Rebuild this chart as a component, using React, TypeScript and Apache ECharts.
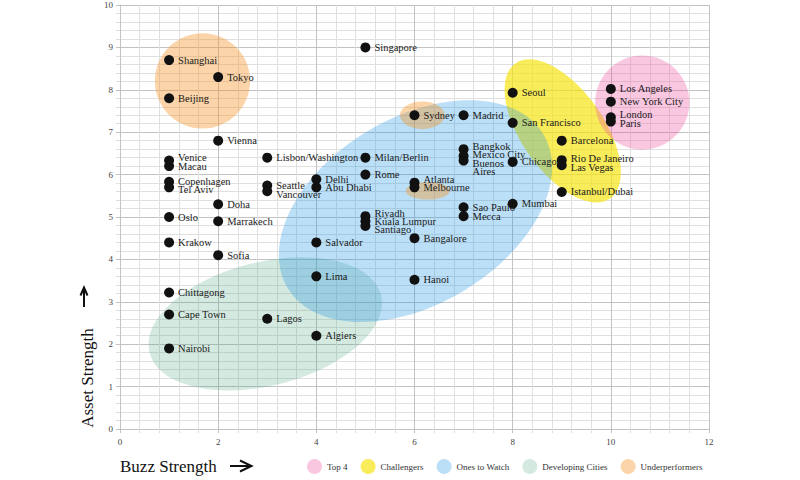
import React, { useEffect, useRef } from "react";
import * as echarts from "echarts";

// ---------- data ----------
const cities = [
  "Shanghai", "Tokyo", "Beijing", "Vienna", "Venice", "Macau", "Copenhagen", "Tel Aviv",
  "Doha", "Oslo", "Marrakech", "Krakow", "Sofia", "Chittagong", "Cape Town", "Nairobi",
  "Lagos", "Algiers", "Lima", "Salvador", "Lisbon/Washington", "Seattle", "Vancouver",
  "Delhi", "Abu Dhabi", "Singapore", "Milan/Berlin", "Rome", "Riyadh", "Kuala Lumpur",
  "Santiago", "Sydney", "Atlanta", "Melbourne", "Bangalore", "Hanoi", "Madrid", "Bangkok",
  "Mexico City", "Buenos\nAires", "Sao Paulo", "Mecca", "Seoul", "San Francisco", "Chicago",
  "Mumbai", "Barcelona", "Rio De Janeiro", "Las Vegas", "Istanbul/Dubai", "Los Angeles",
  "New York City", "London", "Paris",
];
const buzzStrength = [
  1, 2, 1, 2, 1, 1, 1, 1,
  2, 1, 2, 1, 2, 1, 1, 1,
  3, 4, 4, 4, 3, 3, 3,
  4, 4, 5, 5, 5, 5, 5,
  5, 6, 6, 6, 6, 6, 7, 7,
  7, 7, 7, 7, 8, 8, 8,
  8, 9, 9, 9, 9, 10,
  10, 10, 10,
];
const assetStrength = [
  8.7, 8.3, 7.8, 6.8, 6.33, 6.2, 5.83, 5.7,
  5.3, 5.0, 4.9, 4.4, 4.1, 3.22, 2.7, 1.9,
  2.6, 2.2, 3.6, 4.4, 6.4, 5.74, 5.61,
  5.89, 5.7, 9.0, 6.4, 6.0, 5.02, 4.9,
  4.79, 7.4, 5.81, 5.7, 4.5, 3.52, 7.4, 6.6,
  6.44, 6.33, 5.23, 5.02, 7.93, 7.22, 6.3,
  5.31, 6.8, 6.34, 6.22, 5.59, 8.02,
  7.72, 7.35, 7.25,
];

const groupNames = ["Top 4", "Challengers", "Ones to Watch", "Developing Cities", "Underperformers"];
// region ellipses: [centre buzz, centre asset, semi-axis 1, semi-axis 2 (in buzz units), tilt in degrees]
const top4Regions = [[10.64, 7.7, 0.96, 0.96, 0]];
const challengerRegions = [[9.02, 7.03, 1.68, 0.84, -55]];
const watchRegions = [[6.02, 5.14, 3.04, 1.9, 31]];
const developingRegions = [[2.96, 2.48, 2.43, 1.26, 14]];
const underperformerRegions = [
  [1.68, 8.21, 0.97, 0.97, 0],
  [6.16, 7.4, 0.455, 0.28, 0],
  [6.27, 5.62, 0.45, 0.18, 0],
];

const xTicks = { min: 0, max: 12, interval: 2 };
const yTicks = { min: 0, max: 10, interval: 1 };

// ---------- styles ----------
const groupColors: Record<string, string> = {
  "Top 4": "rgba(236, 80, 160, 0.32)",
  Challengers: "rgba(247, 228, 20, 0.7)",
  "Ones to Watch": "rgba(30, 150, 230, 0.3)",
  "Developing Cities": "rgba(70, 160, 120, 0.23)",
  Underperformers: "rgba(245, 150, 40, 0.4)",
};
// small vertical nudges (px) so stacked labels stay legible, as in the reference
const labelNudge: Record<string, number> = {
  London: -2.5,
  Paris: 1.5,
  Riyadh: -3,
  Santiago: 4,
  Venice: -3,
  "Tel Aviv": 2.5,
  Vancouver: 3,
  Atlanta: -3.5,
  Melbourne: 0.5,
  Bangkok: -3,
  "Mexico City": -1,
  "Rio De Janeiro": -1.5,
  "Las Vegas": 2,
  Seattle: -0.5,
};
const SERIF = "'Liberation Serif', serif";

function regionSeries(name: string, regions: number[][]) {
  const color = groupColors[name];
  return {
    type: "custom",
    name,
    silent: true,
    itemStyle: { color },
    data: regions,
    renderItem: (_params: any, api: any) => {
      const c = api.coord([api.value(0), api.value(1)]);
      const s = api.size([1, 1]);
      return {
        type: "ellipse",
        x: c[0],
        y: c[1],
        rotation: (api.value(4) * Math.PI) / 180,
        shape: { cx: 0, cy: 0, rx: api.value(2) * s[0], ry: api.value(3) * s[0] },
        style: { fill: color },
      };
    },
  };
}

export default function App() {
  const ref = useRef<HTMLDivElement>(null);
  useEffect(() => {
    if (!ref.current) return;
    const chart = echarts.init(ref.current, undefined, { renderer: "svg" });
    const gridColor = "#e0e0e0";
    const majorColor = "#c2c2c2";
    const axisCommon = {
      axisLine: { show: true, lineStyle: { color: majorColor, width: 1 } },
      axisTick: { show: true, length: 4, lineStyle: { color: majorColor } },
      minorTick: { show: true, splitNumber: 5, length: 4, lineStyle: { color: gridColor } },
      splitLine: { show: true, lineStyle: { color: majorColor, width: 1 } },
      minorSplitLine: { show: true, lineStyle: { color: gridColor, width: 1 } },
    };
    const option: any = {
      animation: false,
      grid: { left: 120, right: 91, top: 5, bottom: 51, containLabel: false },
      xAxis: {
        type: "value",
        ...xTicks,
        ...axisCommon,
        axisLabel: { fontFamily: SERIF, fontSize: 9, color: "#444", margin: 8 },
      },
      yAxis: {
        type: "value",
        ...yTicks,
        ...axisCommon,
        axisLabel: { fontFamily: SERIF, fontSize: 9, color: "#444", margin: 7 },
      },
      legend: {
        data: groupNames,
        left: 307,
        top: 459,
        icon: "circle",
        itemWidth: 15,
        itemHeight: 15,
        itemGap: 13,
        padding: 0,
        selectedMode: false,
        textStyle: { fontFamily: SERIF, fontSize: 9, color: "#333" },
      },
      series: [
        regionSeries("Developing Cities", developingRegions),
        regionSeries("Challengers", challengerRegions),
        regionSeries("Ones to Watch", watchRegions),
        regionSeries("Top 4", top4Regions),
        regionSeries("Underperformers", underperformerRegions),
        {
          type: "scatter",
          name: "Cities",
          z: 10,
          symbolSize: 10,
          itemStyle: { color: "#111", opacity: 1 },
          emphasis: { disabled: true },
          data: cities.map((n, i) => {
            const item: any = { name: n, value: [buzzStrength[i], assetStrength[i]] };
            if (n.includes("\n")) item.label = { offset: [0, 6.5] };
            else if (labelNudge[n] !== undefined) item.label = { offset: [0, labelNudge[n]] };
            return item;
          }),
          label: {
            show: true,
            position: "right",
            distance: 4,
            formatter: "{b}",
            fontFamily: SERIF,
            fontSize: 10.5,
            lineHeight: 8,
            color: "#1a1a1a",
          },
        },
      ],
      graphic: [
        {
          type: "text",
          x: 120,
          y: 466,
          style: {
            text: "Buzz Strength",
            font: `17px ${SERIF}`,
            fill: "#111",
            align: "left",
            verticalAlign: "middle",
          },
        },
        {
          type: "text",
          x: 87,
          y: 378,
          rotation: Math.PI / 2,
          style: {
            text: "Asset Strength",
            font: `17px ${SERIF}`,
            fill: "#111",
            align: "center",
            verticalAlign: "middle",
          },
        },
        {
          type: "line",
          shape: { x1: 230, y1: 466, x2: 251, y2: 466 },
          style: { stroke: "#111", lineWidth: 2 },
        },
        {
          type: "polyline",
          shape: { points: [[240, 460.5], [251.5, 466], [240, 471.5]] },
          style: { stroke: "#111", lineWidth: 2, fill: null },
        },
        {
          type: "line",
          shape: { x1: 84, y1: 307, x2: 84, y2: 288 },
          style: { stroke: "#111", lineWidth: 2 },
        },
        {
          type: "polyline",
          shape: { points: [[80.5, 295.5], [84, 287.5], [87.5, 295.5]] },
          style: { stroke: "#111", lineWidth: 2, fill: null },
        },
      ],
    };
    chart.setOption(option);
    return () => chart.dispose();
  }, []);
  return (
    <div
      ref={ref}
      style={{ position: "fixed", left: 0, top: 0, width: 800, height: 480, background: "#fff" }}
    />
  );
}
